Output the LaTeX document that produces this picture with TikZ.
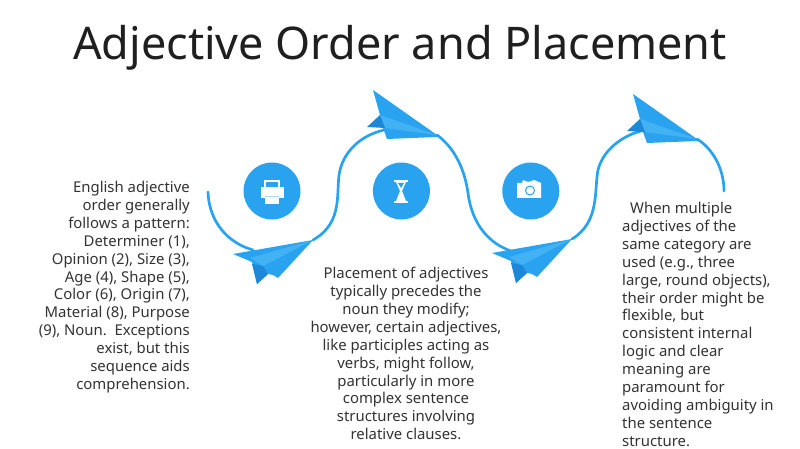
\documentclass[tikz,border=0pt]{standalone}
\usepackage{fontspec}
\setmainfont{Noto Sans}
\usetikzlibrary{positioning}
\definecolor{color1}{RGB}{41, 163, 240}
\definecolor{color2}{RGB}{24, 125, 205}
\definecolor{color3}{RGB}{66, 178, 244}
\definecolor{colortext}{RGB}{51, 51, 51}
\tikzstyle{title} = [text=colortext!60!black, anchor=base, inner sep=0pt, font=\fontsize{45}{52}\selectfont]
\tikzstyle{body} = [text=colortext, inner sep=0pt, font=\fontsize{14.9}{17.9}\selectfont]
\tikzstyle{badge} = [circle, minimum size=57pt, inner sep=0pt, fill=color1]
\tikzstyle{arrow} = [line width=2.7pt, color1, line cap=round]
\tikzset{
  planedown/.pic={
    \fill[color1] (-80,14) -- (0,0) -- (-35,38) -- (-40,35) -- (-45,34) -- (-56,44) -- (-61,22) -- cycle;
    \fill[color3] (-63,18) -- (0,0) -- (-50,26) -- cycle;
    \fill[color2!70!color1] (-61,24) -- (-56,44) -- (-45,34) -- (-50,26) -- cycle;
  },
  planeup/.pic={
    \fill[color1] (-64,-45) -- (0,0) -- (0,2) -- (-50,4) -- (-54,-7) -- (-57,-20) -- cycle;
    \fill[color3] (-57,-20) -- (0,0) -- (-52,-7) -- cycle;
    \fill[color2!70!color1] (-70,-8) -- (-57,-20) -- (-52,-7) -- cycle;
  }
}

\begin{document}
\begin{tikzpicture}[x=1pt, y=-1pt]
\useasboundingbox (0,0) rectangle (800,449);

% Title
\node (title) [title] at (400,60) {Adjective Order and Placement};

% Badges
\node (printer) [badge] at (272,191) {};
\node (hourglass) [badge, right=72pt of printer] {};
\node (camera) [badge, right=72pt of hourglass] {};

% Icons
\fill[white] (264,180) rectangle (280,189);
\fill[color1] (266,182) rectangle (278,189);
\fill[white] (261,187) rectangle (284,198);
\fill[white] (265,196) rectangle (279,204);
\fill[color1!40] (265,196) rectangle (279,197);
\fill[white] (394,180) rectangle (408,182);
\fill[white] (394,201) rectangle (408,203);
\fill[white] (396,182) -- (406,182) -- (402,191) -- (406,201) -- (396,201) -- (400,191) -- cycle;
\fill[color1] (398,183) -- (404,183) -- (401,188) -- cycle;
\fill[white] (517,183) -- (522,183) -- (523,180) -- (528,182) -- (534,180) -- (541,183) -- (541,198) -- (517,198) -- cycle;
\draw[color1, line width=1pt] (530,190.5) circle (4.5);

% Curve points
\coordinate (start) at (208,192);
\coordinate (tail1) at (313,240);
\coordinate (head1) at (384,130);
\coordinate (tail2) at (437,135);
\coordinate (head2) at (514,252);
\coordinate (tail3) at (572,239);
\coordinate (head3) at (641,131);
\coordinate (tail4) at (697,139);
\coordinate (stop) at (724,191);

% Arrows
\draw [arrow] (start) .. controls (209,222) and (228,243) .. (253,250);
\draw [arrow] (tail1) .. controls (345,222) and (335,190) .. (340,170) .. controls (345,150) and (362,135) .. (head1);
\draw [arrow] (tail2) .. controls (452,146) and (464,165) .. (468,193) .. controls (472,225) and (490,245) .. (head2);
\draw [arrow] (tail3) .. controls (600,222) and (594,190) .. (598,170) .. controls (603,150) and (622,136) .. (head3);
\draw [arrow] (tail4) .. controls (712,148) and (724,168) .. (stop);

% Planes
\pic at (tail1) {planedown};
\pic at (tail2) {planeup};
\pic at (tail3) {planedown};
\pic at (tail4) {planeup};

% Text
\node (left) [body, align=right, anchor=north east] at (190,181) {English adjective\\order generally\\follows a pattern:\\Determiner (1),\\Opinion (2), Size (3),\\Age (4), Shape (5),\\Color (6), Origin (7),\\Material (8), Purpose\\(9), Noun.\ \ Exceptions\\exist, but this\\sequence aids\\comprehension.};
\node (middle) [body, align=center, anchor=north] at (406,267) {Placement of adjectives\\typically precedes the\\noun they modify;\\however, certain adjectives,\hspace*{6pt}\\like participles acting as\\verbs, might follow,\\particularly in more\\complex sentence\\structures involving\\relative clauses.};
\node (right) [body, align=left, anchor=north west] at (622,202) {\hspace*{8pt}When multiple\\adjectives of the\\same category are\\used (e.g., three\\large, round objects),\\their order might be\\flexible, but\\consistent internal\\logic and clear\\meaning are\\paramount for\\avoiding ambiguity in\\the sentence\\structure.};

\end{tikzpicture}
\end{document}
